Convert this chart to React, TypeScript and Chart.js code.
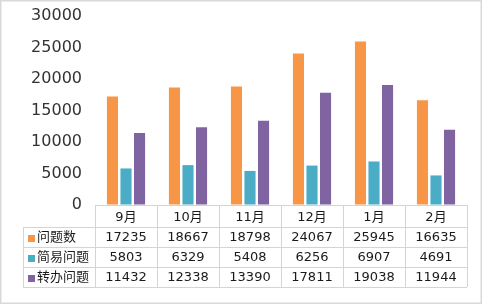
import React, { useEffect, useRef } from "react";
import { Chart, registerables } from "chart.js";

Chart.register(...registerables);

const categories = ["9月", "10月", "11月", "12月", "1月", "2月"];
const totalIssues = [17235, 18667, 18798, 24067, 25945, 16635];
const simpleIssues = [5803, 6329, 5408, 6256, 6907, 4691];
const transferredIssues = [11432, 12338, 13390, 17811, 19038, 11944];
const seriesNames = ["问题数", "简易问题", "转办问题"];
const seriesColors = ["#F79646", "#4BACC6", "#8064A2"];
const yMin = 0;
const yMax = 30000;
const yStep = 5000;

const FONT = '"DejaVu Sans", "Noto Sans CJK SC", sans-serif';

const frameAndTable = {
  id: "frameAndTable",
  beforeDraw(chart: any) {
    const { ctx, width, height } = chart;
    ctx.save();
    ctx.fillStyle = "#ffffff";
    ctx.fillRect(0, 0, width, height);
    ctx.strokeStyle = "#d9d9d9";
    ctx.lineWidth = 1.5;
    ctx.strokeRect(0.75, 0.75, width - 2.5, height - 2.5);
    ctx.restore();
  },
  afterDraw(chart: any) {
    const { ctx, chartArea } = chart;
    const xs = chart.scales.x;
    const n = categories.length;
    const colW = (chartArea.right - chartArea.left) / n;
    const top = chartArea.bottom;
    const headerH = 22;
    const rowH = 20;
    const labelLeft = 23;
    const rows = [totalIssues, simpleIssues, transferredIssues];
    const bottom = top + headerH + rowH * rows.length;
    const p = (v: number) => Math.round(v) + 0.5;

    ctx.save();
    ctx.strokeStyle = "#d4d4d4";
    ctx.lineWidth = 1;
    ctx.beginPath();
    ctx.moveTo(chartArea.left, p(top));
    ctx.lineTo(chartArea.right, p(top));
    for (let r = 0; r <= rows.length; r++) {
      const y = p(top + headerH + r * rowH);
      ctx.moveTo(labelLeft, y);
      ctx.lineTo(chartArea.right, y);
    }
    for (let i = 0; i <= n; i++) {
      const x = p(chartArea.left + i * colW);
      ctx.moveTo(x, top);
      ctx.lineTo(x, bottom);
    }
    ctx.moveTo(p(labelLeft), top + headerH);
    ctx.lineTo(p(labelLeft), bottom);
    ctx.stroke();

    ctx.fillStyle = "#1a1a1a";
    ctx.textBaseline = "middle";
    ctx.textAlign = "center";
    ctx.font = `13px ${FONT}`;
    categories.forEach((c, i) => {
      ctx.fillText(c, xs.getPixelForValue(i), top + headerH / 2 + 1.5);
    });
    rows.forEach((vals, r) => {
      const cy = top + headerH + r * rowH + rowH / 2 + 1;
      vals.forEach((v, i) => {
        ctx.textAlign = "center";
        ctx.fillText(String(v), xs.getPixelForValue(i), cy);
      });
      ctx.fillStyle = seriesColors[r];
      ctx.fillRect(28, Math.round(cy - 3.5), 7, 7);
      ctx.fillStyle = "#1a1a1a";
      ctx.textAlign = "left";
      ctx.fillText(seriesNames[r], 37, cy);
    });
    ctx.restore();
  },
};

export default function App() {
  const ref = useRef<HTMLCanvasElement>(null);
  useEffect(() => {
    if (!ref.current) return;
    const seriesData = [totalIssues, simpleIssues, transferredIssues];
    const chart = new Chart(ref.current, {
      type: "bar",
      data: {
        labels: categories,
        datasets: seriesNames.map((name, i) => ({
          label: name,
          data: seriesData[i],
          backgroundColor: seriesColors[i],
          borderWidth: 0,
          categoryPercentage: 0.655,
          barPercentage: 0.82,
        })),
      },
      options: {
        responsive: false,
        animation: false,
        layout: { padding: { left: 0, top: 16, right: 16, bottom: 100 } },
        plugins: {
          legend: { display: false },
          tooltip: { enabled: false },
        },
        scales: {
          x: {
            display: false,
          },
          y: {
            min: yMin,
            max: yMax,
            grid: {
              display: true,
              drawOnChartArea: false,
              drawTicks: true,
              tickLength: 13,
              color: "rgba(0,0,0,0)",
            },
            border: { display: false },
            ticks: {
              stepSize: yStep,
              padding: 0,
              color: "#333333",
              font: { family: FONT, size: 16 },
              callback: (v: any) => String(v),
            },
            afterFit(scale: any) {
              scale.width = 95;
            },
          },
        },
      },
      plugins: [frameAndTable],
    });
    return () => chart.destroy();
  }, []);
  return (
    <div style={{ position: "absolute", left: 0, top: 0, width: 483, height: 305 }}>
      <canvas ref={ref} width={483} height={305} style={{ width: 483, height: 305, display: "block" }} />
    </div>
  );
}
